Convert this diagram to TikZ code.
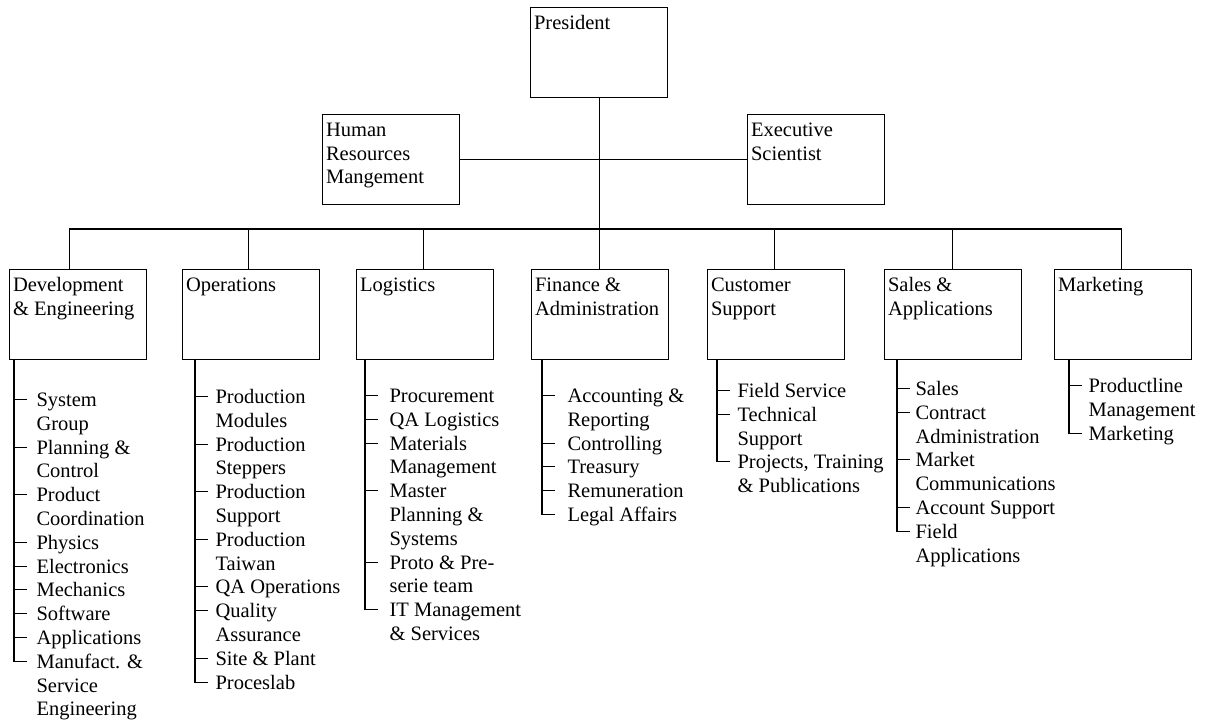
\documentclass[tikz,border=0pt]{standalone}
\usepackage{fontspec}
\setmainfont{Liberation Serif}
\usepackage{tikz}

\begin{document}
\begin{tikzpicture}[x=1pt,y=-1pt,line width=1.1pt]
	\tikzstyle{every node}=[font=\fontsize{20.5}{23.8}\selectfont]
	\tikzstyle{unit}=[draw, anchor=north west, inner xsep=3.5pt, inner ysep=5pt,
		execute at begin node={\begin{minipage}[b][80pt][t]{130pt}\raggedright\strut},
		execute at end node={\end{minipage}}]
	\tikzstyle{item}=[anchor=north west, align=left, inner sep=0pt]

	\useasboundingbox (0.0000,0.0000) rectangle (1208.0000,725.0000);

	%% top of the chart
	\node [unit] (pres) at (530.0000,7.0000) {President};
	\node [unit] (hrm) at (322.0000,114.0000) {Human\\Resources\\Mangement};
	\node [unit] (exec) at (747.0000,114.0000) {Executive\\Scientist};

	%% divisions
	\node [unit] (dev) at (9.0000,269.0000) {Development\\\& Engineering};
	\node [unit] (ops) at (182.0000,269.0000) {Operations};
	\node [unit] (log) at (356.0000,269.0000) {Logistics};
	\node [unit] (fin) at (531.0000,269.0000) {Finance \&\\Administration};
	\node [unit] (cus) at (707.0000,269.0000) {Customer\\Support};
	\node [unit] (sal) at (884.0000,269.0000) {Sales \&\\Applications};
	\node [unit] (mkt) at (1054.0000,269.0000) {Marketing};

	\coordinate (bus) at (598.5000,229.0000);
	\draw (pres.south) -- (pres.south |- fin.north);
	\draw (hrm.east) -- (exec.west);
	\draw ([xshift=-8.5pt]dev.north) |- (bus) -| ([xshift=-2pt]mkt.north);
	\draw ([xshift=-3pt]ops.north) -- ([xshift=-3pt]ops.north |- bus);
	\draw ([xshift=-2pt]log.north) -- ([xshift=-2pt]log.north |- bus);
	\draw ([xshift=-2pt]cus.north) -- ([xshift=-2pt]cus.north |- bus);
	\draw ([xshift=-1pt]sal.north) -- ([xshift=-1pt]sal.north |- bus);

	%% Development & Engineering
	\node [item] (dev1) at (36.0000,389.3400) {\strut System\\Group};
	\node [item] (dev2) at (36.0000,436.9400) {\strut Planning \&\\Control};
	\node [item] (dev3) at (36.0000,484.5400) {\strut Product\\Coordination};
	\node [item] (dev4) at (36.0000,532.1400) {\strut Physics};
	\node [item] (dev5) at (36.0000,555.9400) {\strut Electronics};
	\node [item] (dev6) at (36.0000,579.7400) {\strut Mechanics};
	\node [item] (dev7) at (36.0000,603.5400) {\strut Software};
	\node [item] (dev8) at (36.0000,627.3400) {\strut Applications};
	\node [item] (dev9) at (36.0000,651.1400) {\strut Manufact. \&\\Service\\Engineering};
	\draw ([xshift=5pt]dev.south west) |- ([shift={(-9,10.16)}]dev9.north west);
	\draw (dev1.north west) ++(-22,10.16) -- ++(13,0);
	\draw (dev2.north west) ++(-22,10.16) -- ++(13,0);
	\draw (dev3.north west) ++(-22,10.16) -- ++(13,0);
	\draw (dev4.north west) ++(-22,10.16) -- ++(13,0);
	\draw (dev5.north west) ++(-22,10.16) -- ++(13,0);
	\draw (dev6.north west) ++(-22,10.16) -- ++(13,0);
	\draw (dev7.north west) ++(-22,10.16) -- ++(13,0);
	\draw (dev8.north west) ++(-22,10.16) -- ++(13,0);

	%% Operations
	\node [item] (ops1) at (215.0000,386.3400) {\strut Production\\Modules};
	\node [item] (ops2) at (215.0000,433.9400) {\strut Production\\Steppers};
	\node [item] (ops3) at (215.0000,481.5400) {\strut Production\\Support};
	\node [item] (ops4) at (215.0000,529.1400) {\strut Production\\Taiwan};
	\node [item] (ops5) at (215.0000,576.7400) {\strut QA Operations};
	\node [item] (ops6) at (215.0000,600.5400) {\strut Quality\\Assurance};
	\node [item] (ops7) at (215.0000,648.1400) {\strut Site \& Plant};
	\node [item] (ops8) at (215.0000,671.9400) {\strut Proceslab};
	\draw ([xshift=13pt]ops.south west) |- ([shift={(-7,10.16)}]ops8.north west);
	\draw (ops1.north west) ++(-20,10.16) -- ++(13,0);
	\draw (ops2.north west) ++(-20,10.16) -- ++(13,0);
	\draw (ops3.north west) ++(-20,10.16) -- ++(13,0);
	\draw (ops4.north west) ++(-20,10.16) -- ++(13,0);
	\draw (ops5.north west) ++(-20,10.16) -- ++(13,0);
	\draw (ops6.north west) ++(-20,10.16) -- ++(13,0);
	\draw (ops7.north west) ++(-20,10.16) -- ++(13,0);

	%% Logistics
	\node [item] (log1) at (389.0000,385.3400) {\strut Procurement};
	\node [item] (log2) at (389.0000,409.1400) {\strut QA Logistics};
	\node [item] (log3) at (389.0000,432.9400) {\strut Materials\\Management};
	\node [item] (log4) at (389.0000,480.5400) {\strut Master\\Planning \&\\Systems};
	\node [item] (log5) at (389.0000,551.9400) {\strut Proto \& Pre-\\serie team};
	\node [item] (log6) at (389.0000,599.5400) {\strut IT Management\\\& Services};
	\draw ([xshift=9pt]log.south west) |- ([shift={(-11,10.16)}]log6.north west);
	\draw (log1.north west) ++(-24,10.16) -- ++(13,0);
	\draw (log2.north west) ++(-24,10.16) -- ++(13,0);
	\draw (log3.north west) ++(-24,10.16) -- ++(13,0);
	\draw (log4.north west) ++(-24,10.16) -- ++(13,0);
	\draw (log5.north west) ++(-24,10.16) -- ++(13,0);

	%% Finance & Administration
	\node [item] (fin1) at (567.0000,385.3400) {\strut Accounting \&\\Reporting};
	\node [item] (fin2) at (567.0000,432.9400) {\strut Controlling};
	\node [item] (fin3) at (567.0000,456.7400) {\strut Treasury};
	\node [item] (fin4) at (567.0000,480.5400) {\strut Remuneration};
	\node [item] (fin5) at (567.0000,504.3400) {\strut Legal Affairs};
	\draw ([xshift=11pt]fin.south west) |- ([shift={(-12,10.16)}]fin5.north west);
	\draw (fin1.north west) ++(-25,10.16) -- ++(13,0);
	\draw (fin2.north west) ++(-25,10.16) -- ++(13,0);
	\draw (fin3.north west) ++(-25,10.16) -- ++(13,0);
	\draw (fin4.north west) ++(-25,10.16) -- ++(13,0);

	%% Customer Support
	\node [item] (cus1) at (737.0000,380.3400) {\strut Field Service};
	\node [item] (cus2) at (737.0000,404.1400) {\strut Technical\\Support};
	\node [item] (cus3) at (737.0000,451.7400) {\strut Projects, Training\\\& Publications};
	\draw ([xshift=10pt]cus.south west) |- ([shift={(-7,10.16)}]cus3.north west);
	\draw (cus1.north west) ++(-20,10.16) -- ++(13,0);
	\draw (cus2.north west) ++(-20,10.16) -- ++(13,0);

	%% Sales & Applications
	\node [item] (sal1) at (915.0000,378.3400) {\strut Sales};
	\node [item] (sal2) at (915.0000,402.1400) {\strut Contract\\Administration};
	\node [item] (sal3) at (915.0000,449.7400) {\strut Market\\Communications};
	\node [item] (sal4) at (915.0000,497.3400) {\strut Account Support};
	\node [item] (sal5) at (915.0000,521.1400) {\strut Field\\Applications};
	\draw ([xshift=13pt]sal.south west) |- ([shift={(-5,10.16)}]sal5.north west);
	\draw (sal1.north west) ++(-18,10.16) -- ++(13,0);
	\draw (sal2.north west) ++(-18,10.16) -- ++(13,0);
	\draw (sal3.north west) ++(-18,10.16) -- ++(13,0);
	\draw (sal4.north west) ++(-18,10.16) -- ++(13,0);

	%% Marketing
	\node [item] (mkt1) at (1088.0000,375.3400) {\strut Productline\\Management};
	\node [item] (mkt2) at (1088.0000,422.9400) {\strut Marketing};
	\draw ([xshift=15pt]mkt.south west) |- ([shift={(-6,10.16)}]mkt2.north west);
	\draw (mkt1.north west) ++(-19,10.16) -- ++(13,0);

\end{tikzpicture}
\end{document}
